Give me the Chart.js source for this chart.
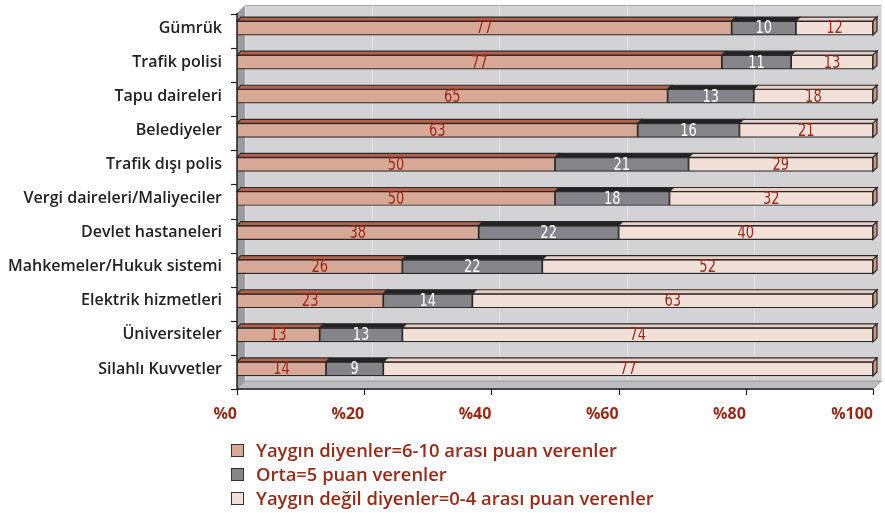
<!DOCTYPE html>
<html>
<head>
<meta charset="utf-8">
<script src="https://cdn.jsdelivr.net/npm/chart.js@4.4.0/dist/chart.umd.min.js"></script>
<style>
  html, body { margin: 0; padding: 0; background: #fff; }
  #wrap { position: relative; width: 885px; height: 513px; }
  #legend { position: absolute; left: 231px; top: 438px; font-family: "Open Sans", Roboto, sans-serif; font-weight: 600; font-size: 18.4px; color: #9a2a16; }
  #legend div { height: 24px; line-height: 24px; display: flex; align-items: center; }
  #legend span.box { display: inline-block; width: 11px; height: 11px; border: 1.5px solid #333; margin-right: 12px; }
</style>
</head>
<body>
<div id="wrap">
  <canvas id="chart" width="885" height="513"></canvas>
  <div id="legend"></div>
</div>
<script>
// Kurum adları
const categories = ['Gümrük', 'Trafik polisi', 'Tapu daireleri', 'Belediyeler', 'Trafik dışı polis',
  'Vergi daireleri/Maliyeciler', 'Devlet hastaneleri', 'Mahkemeler/Hukuk sistemi',
  'Elektrik hizmetleri', 'Üniversiteler', 'Silahlı Kuvvetler'];

// Yüzdeler (grafikte yazan değerler)
const yaygin   = [77, 77, 65, 63, 50, 50, 38, 26, 23, 13, 14];
const orta     = [10, 11, 13, 16, 21, 18, 22, 22, 14, 13, 9];
const yayginDegil = [12, 13, 18, 21, 29, 32, 40, 52, 63, 74, 77];

const seriesNames = ['Yaygın diyenler=6-10 arası puan verenler', 'Orta=5 puan verenler', 'Yaygın değil diyenler=0-4 arası puan verenler'];
const xTicks = [0, 20, 40, 60, 80, 100];

const raw = [yaygin, orta, yayginDegil];
const totals = categories.map((c, i) => yaygin[i] + orta[i] + yayginDegil[i]);

const styles = [
  { front: '#d8a896', top: '#b5614a', label: '#a0281a' },
  { front: '#858589', top: '#222222', label: '#ffffff' },
  { front: '#f2e0d8', top: '#ead0c4', side: '#cf957f', label: '#a0281a' }
];

const D = 8;    // wall depth
const BD = 4;   // bar depth

// 3D background: walls, floor, axes
const walls = {
  id: 'walls',
  beforeDatasetsDraw(chart) {
    const { ctx, chartArea: a, scales: { x } } = chart;
    const yb = a.bottom + 3, yt = a.top + 2;
    ctx.save();
    // back wall
    ctx.fillStyle = '#d3d3d5';
    ctx.fillRect(a.left + D, yt - D, a.right - a.left, yb - yt);
    ctx.strokeStyle = '#a8a8aa';
    ctx.lineWidth = 1;
    ctx.strokeRect(a.left + D + 0.5, yt - D + 0.5, a.right - a.left, yb - yt);
    // grid on back wall
    ctx.strokeStyle = '#e4e4e6';
    xTicks.forEach(v => {
      const px = Math.round(x.getPixelForValue(v)) + D + 0.5;
      ctx.beginPath(); ctx.moveTo(px, yt - D); ctx.lineTo(px, yb - D); ctx.stroke();
    });
    // left wall
    ctx.fillStyle = '#9c9ca0';
    ctx.beginPath();
    ctx.moveTo(a.left, yt); ctx.lineTo(a.left + D, yt - D);
    ctx.lineTo(a.left + D, yb - D); ctx.lineTo(a.left, yb); ctx.closePath(); ctx.fill();
    // floor
    ctx.fillStyle = '#bdbdc0';
    ctx.beginPath();
    ctx.moveTo(a.left, yb); ctx.lineTo(a.left + D, yb - D);
    ctx.lineTo(a.right + D, yb - D); ctx.lineTo(a.right, yb); ctx.closePath(); ctx.fill();
    ctx.strokeStyle = '#9a9a9c';
    ctx.stroke();
    // axes
    ctx.strokeStyle = '#222';
    ctx.lineWidth = 1.5;
    ctx.beginPath();
    ctx.moveTo(a.left, yt); ctx.lineTo(a.left, yb); ctx.lineTo(a.right, yb);
    ctx.stroke();
    ctx.lineWidth = 1.2;
    const step = (a.bottom - a.top) / categories.length;
    for (let i = 0; i <= categories.length; i++) {
      const py = Math.round(a.top + 3 + i * step) + 0.5;
      ctx.beginPath(); ctx.moveTo(a.left - 6, py); ctx.lineTo(a.left, py); ctx.stroke();
    }
    xTicks.forEach(v => {
      const px = Math.round(x.getPixelForValue(v)) + 0.5;
      ctx.beginPath(); ctx.moveTo(px, yb); ctx.lineTo(px, yb + 6); ctx.stroke();
    });
    ctx.restore();
  }
};

// 3D faces and value labels on bars
const bars3d = {
  id: 'bars3d',
  afterDatasetsDraw(chart) {
    const { ctx } = chart;
    ctx.save();
    ctx.lineWidth = 1.2;
    ctx.strokeStyle = '#2a2a2a';
    chart.data.datasets.forEach((ds, di) => {
      const meta = chart.getDatasetMeta(di);
      meta.data.forEach((bar, i) => {
        const { x, y, base, height } = bar.getProps(['x', 'y', 'base', 'height']);
        const t = y - height / 2, b = y + height / 2;
        ctx.fillStyle = styles[di].top;
        ctx.beginPath();
        ctx.moveTo(base, t); ctx.lineTo(base + BD, t - BD);
        ctx.lineTo(x + BD, t - BD); ctx.lineTo(x, t); ctx.closePath();
        ctx.fill(); ctx.stroke();
        if (di === chart.data.datasets.length - 1) {
          ctx.fillStyle = styles[di].side;
          ctx.beginPath();
          ctx.moveTo(x, t); ctx.lineTo(x + BD, t - BD);
          ctx.lineTo(x + BD, b - BD); ctx.lineTo(x, b); ctx.closePath();
          ctx.fill(); ctx.stroke();
        }
        // value label, narrowed
        ctx.save();
        ctx.translate((x + base) / 2, y + 1);
        ctx.scale(0.85, 1);
        ctx.fillStyle = styles[di].label;
        ctx.font = '17px "Liberation Sans Narrow", "DejaVu Sans Condensed", sans-serif';
        ctx.textAlign = 'center';
        ctx.textBaseline = 'middle';
        ctx.fillText(String(raw[di][i]), 0, 0);
        ctx.restore();
      });
    });
    ctx.restore();
  }
};

new Chart(document.getElementById('chart'), {
  type: 'bar',
  data: {
    labels: categories,
    datasets: raw.map((vals, di) => ({
      label: seriesNames[di],
      data: vals.map((v, i) => v / totals[i] * 100),
      backgroundColor: styles[di].front,
      borderColor: '#2a2a2a',
      borderWidth: 1.2,
      borderSkipped: false,
      barThickness: 14
    }))
  },
  options: {
    indexAxis: 'y',
    responsive: false,
    animation: false,
    layout: { padding: { top: 11, right: 12, left: 0, bottom: 0 } },
    plugins: { legend: { display: false }, tooltip: { enabled: false } },
    scales: {
      x: {
        stacked: true, min: 0, max: 100,
        afterBuildTicks: s => { s.ticks = xTicks.map(v => ({ value: v })); },
        afterFit: s => { s.height = 127; s.paddingLeft = 0; s.paddingRight = 0; },
        grid: { display: false },
        border: { display: false },
        ticks: {
          callback: v => '%' + v,
          color: '#9a2a16',
          padding: 11,
          align: 'end',
          maxRotation: 0,
          font: { family: 'Open Sans', size: 16, weight: 'bold' }
        }
      },
      y: {
        stacked: true,
        afterFit: s => { s.width = 237; s.paddingTop = 0; s.paddingBottom = 0; },
        grid: { display: false },
        border: { display: false },
        ticks: {
          color: '#222',
          padding: 7,
          font: { family: 'Open Sans', size: 16, weight: '600' }
        }
      }
    }
  },
  plugins: [walls, bars3d]
});

// HTML legend
document.getElementById('legend').innerHTML = seriesNames.map((n, i) =>
  '<div><span class="box" style="background:' + styles[i].front + '"></span>' + n + '</div>').join('');
</script>
</body>
</html>
